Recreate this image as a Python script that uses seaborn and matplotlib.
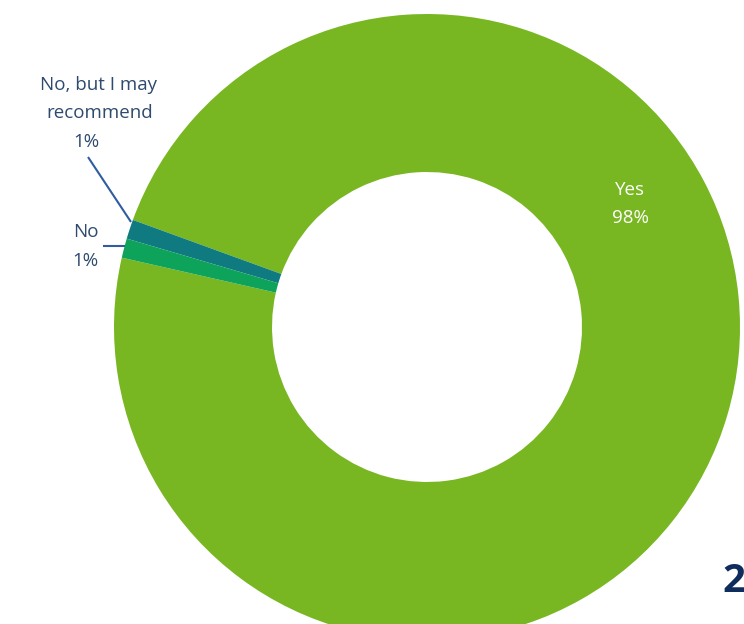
import matplotlib
matplotlib.use("Agg")
import matplotlib.pyplot as plt
import seaborn as sns

categories = ["Yes", "No, but I may\nrecommend", "No"]
values = [98, 1, 1]
pct_labels = ["98%", "1%", "1%"]
colors = ["#78B722", "#0F7A80", "#0DA35B"]

sns.set_theme(style="white")
plt.rcParams['font.family'] = ['Open Sans', 'DejaVu Sans']

W, H = 744, 624
fig = plt.figure(figsize=(W / 100, H / 100), dpi=100)
ax = fig.add_axes([0, 0, 1, 1])

cx, cy = 427, 327
R_out, R_in = 313, 155
ax.pie(values, colors=colors, startangle=167.2, counterclock=True,
       radius=R_out, center=(cx, -cy),
       wedgeprops=dict(width=R_out - R_in, edgecolor="none"))
ax.set_xlim(0, W)
ax.set_ylim(-H, 0)
ax.set_aspect("equal")
ax.axis("off")

txt = "#2E4A6E"
line_c = "#2F5DA0"
fs = 13.5

ax.text(630, -190, categories[0], color="white", fontsize=fs, ha="center", va="center")
ax.text(630, -218, pct_labels[0], color="white", fontsize=fs, ha="center", va="center")

name_lines = categories[1].split("\n")
ax.text(98, -85, name_lines[0], color=txt, fontsize=fs, ha="center", va="center")
ax.text(100, -113, name_lines[1], color=txt, fontsize=fs, ha="center", va="center")
ax.text(86, -142, pct_labels[1], color=txt, fontsize=fs, ha="center", va="center")
ax.plot([88, 131], [-157, -222], color=line_c, lw=1.5, solid_capstyle="butt")

ax.text(86, -232, categories[2], color=txt, fontsize=fs, ha="center", va="center")
ax.text(85, -261, pct_labels[2], color=txt, fontsize=fs, ha="center", va="center")
ax.plot([103, 125], [-246, -246], color=line_c, lw=1.5, solid_capstyle="butt")

ax.text(722, -582, "2", color="#0F2D5C", fontsize=29, fontweight="bold",
        ha="left", va="center")

fig.savefig("out.png", dpi=100)
